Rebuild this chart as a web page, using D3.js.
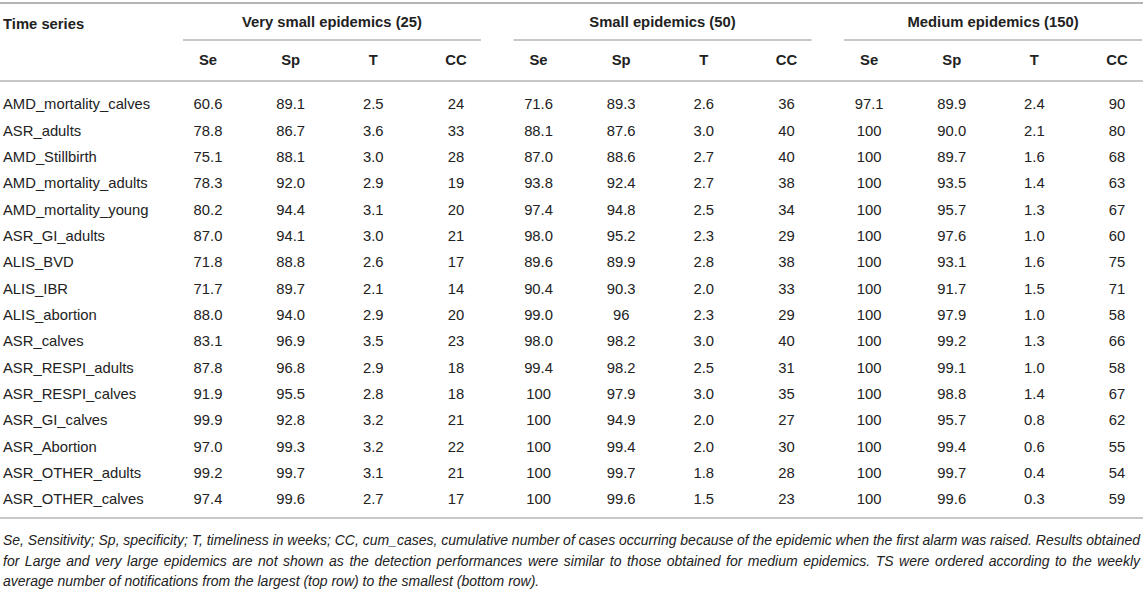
<!DOCTYPE html>
<html>
<head>
<meta charset="utf-8">
<script src="https://cdn.jsdelivr.net/npm/d3@7"></script>
<style>
  body { margin: 0; background: #fff; }
  svg { display: block; font-family: "Liberation Sans", Arial, Helvetica, sans-serif; }
</style>
</head>
<body>
<svg id="chart"></svg>
<script>
const width = 1143;
const height = 589;

const seriesNames = ["AMD_mortality_calves", "ASR_adults", "AMD_Stillbirth", "AMD_mortality_adults",
  "AMD_mortality_young", "ASR_GI_adults", "ALIS_BVD", "ALIS_IBR", "ALIS_abortion", "ASR_calves",
  "ASR_RESPI_adults", "ASR_RESPI_calves", "ASR_GI_calves", "ASR_Abortion", "ASR_OTHER_adults", "ASR_OTHER_calves"];
const groups = ["Very small epidemics (25)", "Small epidemics (50)", "Medium epidemics (150)"];
const measures = ["Se", "Sp", "T", "CC"];

const vsSe = ["60.6", "78.8", "75.1", "78.3", "80.2", "87.0", "71.8", "71.7", "88.0", "83.1", "87.8", "91.9", "99.9", "97.0", "99.2", "97.4"];
const vsSp = ["89.1", "86.7", "88.1", "92.0", "94.4", "94.1", "88.8", "89.7", "94.0", "96.9", "96.8", "95.5", "92.8", "99.3", "99.7", "99.6"];
const vsT = ["2.5", "3.6", "3.0", "2.9", "3.1", "3.0", "2.6", "2.1", "2.9", "3.5", "2.9", "2.8", "3.2", "3.2", "3.1", "2.7"];
const vsCC = ["24", "33", "28", "19", "20", "21", "17", "14", "20", "23", "18", "18", "21", "22", "21", "17"];

const smSe = ["71.6", "88.1", "87.0", "93.8", "97.4", "98.0", "89.6", "90.4", "99.0", "98.0", "99.4", "100", "100", "100", "100", "100"];
const smSp = ["89.3", "87.6", "88.6", "92.4", "94.8", "95.2", "89.9", "90.3", "96", "98.2", "98.2", "97.9", "94.9", "99.4", "99.7", "99.6"];
const smT = ["2.6", "3.0", "2.7", "2.7", "2.5", "2.3", "2.8", "2.0", "2.3", "3.0", "2.5", "3.0", "2.0", "2.0", "1.8", "1.5"];
const smCC = ["36", "40", "40", "38", "34", "29", "38", "33", "29", "40", "31", "35", "27", "30", "28", "23"];

const mdSe = ["97.1", "100", "100", "100", "100", "100", "100", "100", "100", "100", "100", "100", "100", "100", "100", "100"];
const mdSp = ["89.9", "90.0", "89.7", "93.5", "95.7", "97.6", "93.1", "91.7", "97.9", "99.2", "99.1", "98.8", "95.7", "99.4", "99.7", "99.6"];
const mdT = ["2.4", "2.1", "1.6", "1.4", "1.3", "1.0", "1.6", "1.5", "1.0", "1.3", "1.0", "1.4", "0.8", "0.6", "0.4", "0.3"];
const mdCC = ["90", "80", "68", "63", "67", "60", "75", "71", "58", "66", "58", "67", "62", "55", "54", "59"];

const footLines = [
  "Se, Sensitivity; Sp, specificity; T, timeliness in weeks; CC, cum_cases, cumulative number of cases occurring because of the epidemic when the first alarm was raised. Results obtained",
  "for Large and very large epidemics are not shown as the detection performances were similar to those obtained for medium epidemics. TS were ordered according to the weekly",
  "average number of notifications from the largest (top row) to the smallest (bottom row)."
];

const columns = [vsSe, vsSp, vsT, vsCC, smSe, smSp, smT, smCC, mdSe, mdSp, mdT, mdCC];
const colKeys = d3.range(columns.length);

const xs = d3.scalePoint().domain(colKeys).range([208, 1117]);
const ys = d3.scalePoint().domain(seriesNames).range([104, 499]);
const lineColor = "#b4b4b4";
const textColor = "#222";
const bodySize = 14.8;
const headSize = 14.8;
const footSize = 14;

const svg = d3.select("#chart").attr("width", width).attr("height", height);

function rule(y, x1, x2, w) {
  svg.append("line")
    .attr("x1", x1).attr("x2", x2).attr("y1", y).attr("y2", y)
    .attr("stroke", lineColor).attr("stroke-width", w);
}

rule(3, 0, width, 2);
rule(81, 0, width, 1.5);
rule(518, 0, width, 1.5);

// header row
svg.append("text")
  .attr("x", 3).attr("y", 24).attr("dy", "0.35em")
  .attr("font-size", headSize).attr("font-weight", "bold").attr("fill", textColor)
  .text("Time series");

groups.forEach((g, gi) => {
  const a = xs(gi * 4), b = xs(gi * 4 + 3);
  svg.append("text")
    .attr("x", (a + b) / 2).attr("y", 22).attr("dy", "0.35em")
    .attr("text-anchor", "middle")
    .attr("font-size", headSize).attr("font-weight", "bold").attr("fill", textColor)
    .text(g);
  rule(40, a - 25, b + 25, 1.5);
});

svg.append("g").selectAll("text")
  .data(colKeys)
  .join("text")
  .attr("x", d => xs(d)).attr("y", 60).attr("dy", "0.35em")
  .attr("text-anchor", "middle")
  .attr("font-size", headSize).attr("font-weight", "bold").attr("fill", textColor)
  .text(d => measures[d % 4]);

// body
svg.append("g").selectAll("text")
  .data(seriesNames)
  .join("text")
  .attr("x", 3).attr("y", d => ys(d)).attr("dy", "0.35em")
  .attr("font-size", bodySize).attr("fill", textColor)
  .text(d => d);

const cells = [];
columns.forEach((col, ci) => col.forEach((v, ri) => cells.push({ ci, row: seriesNames[ri], v })));

svg.append("g").selectAll("text")
  .data(cells)
  .join("text")
  .attr("x", d => xs(d.ci)).attr("y", d => ys(d.row)).attr("dy", "0.35em")
  .attr("text-anchor", "middle")
  .attr("font-size", bodySize).attr("fill", textColor)
  .text(d => d.v);

// footnote, justified by hand: measure words and spread the gaps
const footY = [540, 561, 581];
const footLeft = 3, footRight = width - 3;
footLines.forEach((line, li) => {
  const words = line.split(" ");
  const g = svg.append("g");
  const nodes = words.map(w => g.append("text")
    .attr("y", footY[li]).attr("dy", "0.35em")
    .attr("font-size", footSize).attr("font-style", "italic").attr("fill", textColor)
    .text(w));
  const widths = nodes.map(n => n.node().getComputedTextLength());
  const total = d3.sum(widths);
  const space = footSize * 0.278;
  const gap = li < footLines.length - 1
    ? (footRight - footLeft - total) / (words.length - 1)
    : space;
  let x = footLeft;
  nodes.forEach((n, i) => {
    n.attr("x", x);
    x += widths[i] + gap;
  });
});
</script>
</body>
</html>
